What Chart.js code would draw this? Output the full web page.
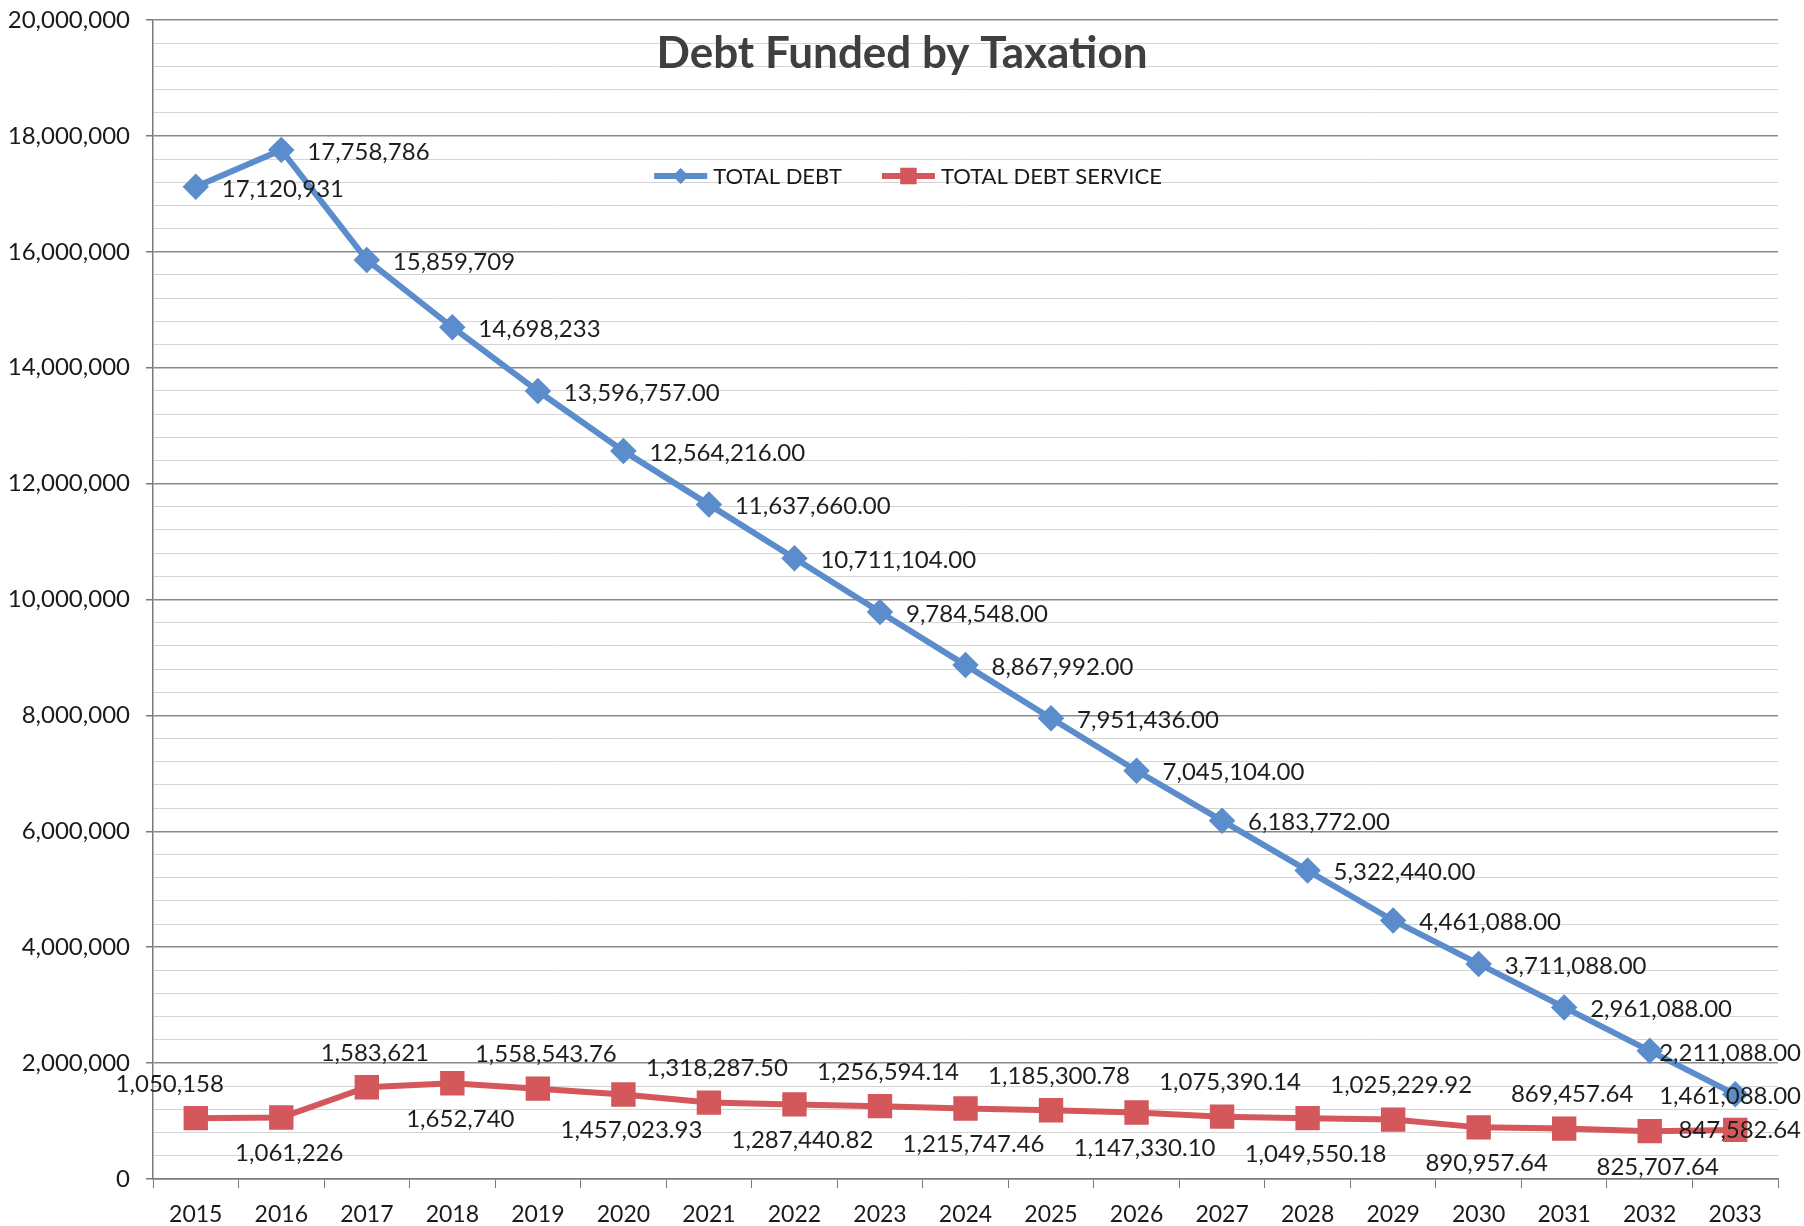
<!DOCTYPE html>
<html>
<head>
<meta charset="utf-8">
<title>Debt Funded by Taxation</title>
<script src="https://cdn.jsdelivr.net/npm/chart.js@4.4.1/dist/chart.umd.min.js"></script>
<style>
    html, body { margin: 0; padding: 0; background: #fff; }
    #wrap { width: 1804px; height: 1226px; position: relative; }
</style>
</head>
<body>
<div id="wrap"><canvas id="debtChart"></canvas></div>
<script>
// Values
const years = ['2015', '2016', '2017', '2018', '2019', '2020', '2021', '2022', '2023', '2024',
    '2025', '2026', '2027', '2028', '2029', '2030', '2031', '2032', '2033'];

const totalDebt = [17120931, 17758786, 15859709, 14698233, 13596757, 12564216, 11637660,
    10711104, 9784548, 8867992, 7951436, 7045104, 6183772, 5322440, 4461088, 3711088,
    2961088, 2211088, 1461088];

const totalDebtService = [1050158, 1061226, 1583621, 1652740, 1558543.76, 1457023.93,
    1318287.50, 1287440.82, 1256594.14, 1215747.46, 1185300.78, 1147330.10, 1075390.14,
    1049550.18, 1025229.92, 890957.64, 869457.64, 825707.64, 847582.64];

const seriesNames = ['TOTAL DEBT', 'TOTAL DEBT SERVICE'];
const chartTitle = 'Debt Funded by Taxation';

// the first few years are shown as whole numbers, the rest with cents
const wholeYears = 4;

const BLUE = '#5B8CCB';
const RED = '#D4575B';
const FONT = 'Lato, "Open Sans", sans-serif';

function fmt(v, decimals) {
    return v.toLocaleString('en-US', { minimumFractionDigits: decimals, maximumFractionDigits: decimals });
}

// Title + legend sit inside the plot area, like the Excel original
const overlayPlugin = {
    id: 'overlay',
    afterDraw(chart) {
        const ctx = chart.ctx;
        ctx.save();
        ctx.font = 'bold 44px ' + FONT;
        ctx.fillStyle = '#3f3f3f';
        ctx.textAlign = 'center';
        ctx.textBaseline = 'middle';
        ctx.fillText(chartTitle, 902, 54);

        // legend row
        ctx.font = '22px ' + FONT;
        const sample = 53, gap = 6, itemGap = 40;
        const widths = chart.data.datasets.map(ds => ctx.measureText(ds.label).width);
        let total = 0;
        widths.forEach((w, i) => { total += sample + gap + w + (i ? itemGap : 0); });
        let x = 908 - total / 2;
        const y = 176;
        chart.data.datasets.forEach((ds, i) => {
            ctx.strokeStyle = ds.borderColor;
            ctx.lineWidth = 6;
            ctx.beginPath();
            ctx.moveTo(x, y);
            ctx.lineTo(x + sample, y);
            ctx.stroke();
            ctx.fillStyle = ds.pointBackgroundColor;
            Chart.helpers.drawPoint(ctx, {
                pointStyle: ds.pointStyle,
                radius: ds.pointRadius * 0.9,
                rotation: 0,
                borderWidth: 0
            }, x + sample / 2, y);
            ctx.fillStyle = '#1a1a1a';
            ctx.textAlign = 'left';
            ctx.fillText(ds.label, x + sample + gap, y + 1);
            x += sample + gap + widths[i] + itemGap;
        });
        ctx.restore();
    }
};

// Value labels next to each point
const valueLabelPlugin = {
    id: 'valueLabels',
    afterDatasetsDraw(chart) {
        const ctx = chart.ctx;
        const maxX = chart.width - 3;
        ctx.save();
        ctx.font = '24px ' + FONT;
        ctx.fillStyle = '#1e1e1e';
        ctx.textBaseline = 'middle';
        ctx.textAlign = 'left';

        const debtMeta = chart.getDatasetMeta(0);
        debtMeta.data.forEach((pt, i) => {
            const txt = fmt(totalDebt[i], i < wholeYears ? 0 : 2);
            const w = ctx.measureText(txt).width;
            let left = pt.x + 26;
            if (left + w > maxX) left = maxX - w;
            ctx.fillText(txt, left, pt.y + 2);
        });

        const svcMeta = chart.getDatasetMeta(1);
        const last = svcMeta.data.length - 1;
        svcMeta.data.forEach((pt, i) => {
            const txt = fmt(totalDebtService[i], i < wholeYears ? 0 : 2);
            const w = ctx.measureText(txt).width;
            let left = pt.x + 8 - w / 2;
            if (i === 0) left = pt.x - 26 - w / 2;
            if (left + w > maxX) left = maxX - w;
            let dy = i % 2 === 0 ? -34 : 36;
            if (i === last) dy = 0;
            ctx.fillText(txt, left, pt.y + dy);
        });
        ctx.restore();
    }
};

const ctx = document.getElementById('debtChart').getContext('2d');
new Chart(ctx, {
    type: 'line',
    data: {
        labels: years,
        datasets: [
            {
                label: seriesNames[0],
                data: totalDebt,
                borderColor: BLUE,
                backgroundColor: BLUE,
                pointBackgroundColor: BLUE,
                pointBorderColor: BLUE,
                borderWidth: 6,
                pointStyle: 'rectRot',
                pointRadius: 9,
                tension: 0
            },
            {
                label: seriesNames[1],
                data: totalDebtService,
                borderColor: RED,
                backgroundColor: RED,
                pointBackgroundColor: RED,
                pointBorderColor: RED,
                borderWidth: 6,
                pointStyle: 'rect',
                pointRadius: 13,
                tension: 0
            }
        ]
    },
    options: {
        responsive: true,
        maintainAspectRatio: false,
        animation: false,
        layout: { padding: { top: 20, right: 26, left: 0, bottom: 0 } },
        plugins: {
            legend: { display: false },
            title: { display: false },
            tooltip: { enabled: false }
        },
        scales: {
            x: {
                offset: true,
                grid: {
                    offset: true,
                    drawOnChartArea: false,
                    drawTicks: true,
                    tickLength: 9,
                    color: '#7a7a7a'
                },
                border: { color: '#7a7a7a', width: 1.5 },
                ticks: {
                    color: '#1a1a1a',
                    font: { family: FONT, size: 23 },
                    padding: 13,
                    maxRotation: 0,
                    autoSkip: false
                },
                afterFit(scale) { scale.height = 47; }
            },
            y: {
                min: 0,
                max: 20000000,
                grid: {
                    color: c => (c.tick && c.tick.value % 2000000 === 0) ? '#8a8a8a' : '#d4d4d4',
                    lineWidth: c => (c.tick && c.tick.value % 2000000 === 0) ? 1.5 : 1,
                    tickLength: 7,
                    tickColor: c => (c.tick && c.tick.value % 2000000 === 0) ? '#7a7a7a' : 'rgba(0,0,0,0)'
                },
                border: { color: '#7a7a7a', width: 1.5 },
                ticks: {
                    stepSize: 400000,
                    maxTicksLimit: 60,
                    autoSkip: false,
                    color: '#1a1a1a',
                    font: { family: FONT, size: 24 },
                    padding: 16,
                    callback: v => v % 2000000 === 0 ? fmt(v, 0) : ''
                },
                afterFit(scale) {
                    scale.width = 153;
                    scale.paddingTop = 0;
                    scale.paddingBottom = 0;
                }
            }
        }
    },
    plugins: [valueLabelPlugin, overlayPlugin]
});
</script>
</body>
</html>
